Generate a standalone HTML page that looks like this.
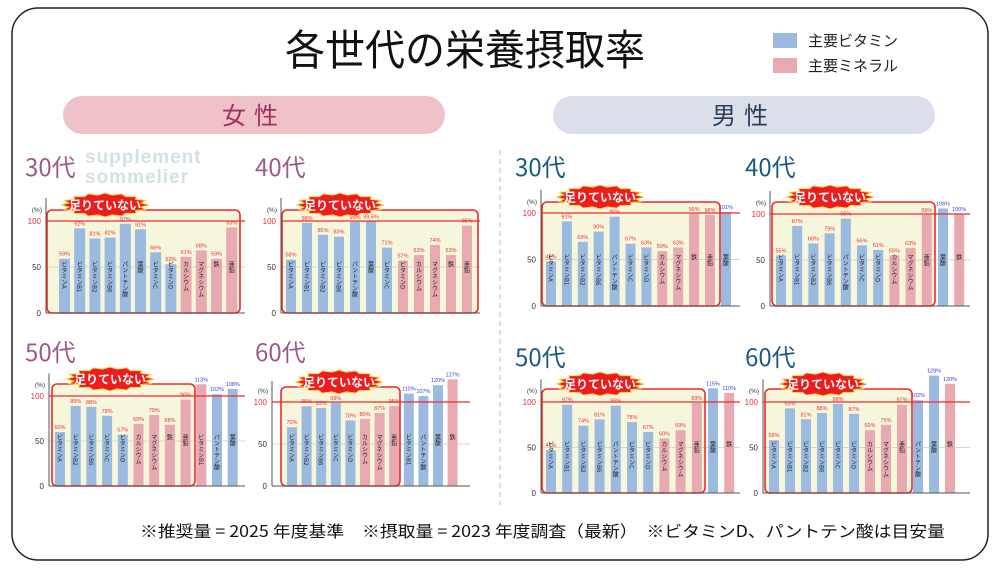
<!DOCTYPE html>
<html><head><meta charset="utf-8">
<style>
html,body{margin:0;padding:0;background:#fff;}
svg{display:block;font-family:"Liberation Sans","Noto Sans CJK JP",sans-serif;}
</style></head>
<body>
<svg id="s" width="1000" height="570" xmlns="http://www.w3.org/2000/svg">
<rect x="12" y="8" width="976" height="552" rx="26" fill="#fff" stroke="#222" stroke-width="1.5"/>
<text x="85" y="163" font-size="19" font-weight="bold" fill="#d3e1e6" letter-spacing="1">supplement</text>
<text x="85" y="183" font-size="19" font-weight="bold" fill="#d3e1e6" letter-spacing="1">sommelier</text>
<text x="285" y="65" font-size="42" textLength="360" lengthAdjust="spacingAndGlyphs" fill="#111" font-family="'Noto Sans CJK JP',sans-serif">各世代の栄養摂取率</text>
<rect x="773" y="33" width="24" height="15" fill="#9bbadf"/>
<text x="808" y="46" font-size="15" fill="#222" font-family="'Noto Sans CJK JP',sans-serif">主要ビタミン</text>
<rect x="773" y="58" width="24" height="15" fill="#e8a9b0"/>
<text x="808" y="71" font-size="15" fill="#222" font-family="'Noto Sans CJK JP',sans-serif">主要ミネラル</text>
<rect x="63" y="96" width="382" height="38" rx="19" fill="#efc1c9"/>
<text x="254" y="124" font-size="24" text-anchor="middle" fill="#a0335e" letter-spacing="8" font-family="'Noto Sans CJK JP',sans-serif">女性</text>
<rect x="553" y="96" width="382" height="38" rx="19" fill="#dadfea"/>
<text x="744" y="124" font-size="24" text-anchor="middle" fill="#2c3e58" letter-spacing="8" font-family="'Noto Sans CJK JP',sans-serif">男性</text>
<line x1="500" y1="150" x2="500" y2="505" stroke="#bbb" stroke-dasharray="5,4"/>
<text x="140" y="537" font-size="16" textLength="805" lengthAdjust="spacingAndGlyphs" fill="#111" font-family="'Noto Sans CJK JP',sans-serif">※推奨量 = 2025 年度基準　※摂取量 = 2023 年度調査（最新）　※ビタミンD、パントテン酸は目安量</text>
<g id="g"></g>
</svg>
<script>
const B="#9bbadf",P="#e8a9b0";
const panels=[
{t:"30代",tc:"#9c5a86",tx:25,ty:176,ax:46,y0:313,y100:221,bx1:47,bx2:240,by:210,fb:59,pitch:15.2,w:11,end:245,n:12,
d:[["ビタミンA",59,B],["ビタミンB1",92,B],["ビタミンB2",81,B],["ビタミンB6",82,B],["パントテン酸",97,B],["葉酸",91,B],["ビタミンC",66,B],["ビタミンD",53,B],["カルシウム",61,P],["マグネシウム",68,P],["鉄",59,P],["亜鉛",93,P]]},
{t:"40代",tc:"#9c5a86",tx:255,ty:176,ax:281,y0:313,y100:221,bx1:282,bx2:478,by:210,fb:286,pitch:16,w:10,end:480,n:12,
d:[["ビタミンA",58,B],["ビタミンB1",98,B],["ビタミンB2",85,B],["ビタミンB6",83,B],["パントテン酸",99,B],["葉酸",99.6,B,"99.6"],["ビタミンC",71,B],["ビタミンD",57,P],["カルシウム",63,P],["マグネシウム",74,P],["鉄",63,P],["亜鉛",95,P]]},
{t:"50代",tc:"#9c5a86",tx:25,ty:361,ax:49,y0:486,y100:396,bx1:52,bx2:195,by:384,fb:55,pitch:15.7,w:10,end:245,n:9,
d:[["ビタミンA",60,B],["ビタミンB2",89,B],["ビタミンB6",88,B],["ビタミンC",78,B],["ビタミンD",57,B],["カルシウム",69,P],["マグネシウム",79,P],["鉄",68,P],["亜鉛",96,P],["ビタミンB1",113,P],["パントテン酸",102,B],["葉酸",108,B]]},
{t:"60代",tc:"#9c5a86",tx:255,ty:361,ax:272,y0:486,y100:402,bx1:281,bx2:400,by:387,fb:287,pitch:14.6,w:10,end:470,n:8,
d:[["ビタミンA",70,B],["ビタミンB2",95,B],["ビタミンB6",93,B],["ビタミンC",99,B],["ビタミンD",78,B],["カルシウム",80,P],["マグネシウム",87,P],["亜鉛",95,P],["ビタミンB1",110,B],["パントテン酸",107,B],["葉酸",120,B],["鉄",127,P]]},
{t:"30代",tc:"#1b5a80",tx:515,ty:176,ax:541,y0:306,y100:213,bx1:542,bx2:720,by:202,fb:546,pitch:15.9,w:10,end:740,n:11,
d:[["ビタミンA",48,B],["ビタミンB1",91,B],["ビタミンB2",69,B],["ビタミンB6",80,B],["パントテン酸",96,B],["ビタミンC",67,B],["ビタミンD",63,B],["カルシウム",59,P],["マグネシウム",63,P],["鉄",99,P],["亜鉛",98,P],["葉酸",101,B]]},
{t:"40代",tc:"#1b5a80",tx:745,ty:176,ax:770,y0:306,y100:214,bx1:772,bx2:935,by:202,fb:776,pitch:16.2,w:10,end:970,n:10,
d:[["ビタミンA",55,B],["ビタミンB1",87,B],["ビタミンB2",68,B],["ビタミンB6",79,B],["パントテン酸",95,B],["ビタミンC",66,B],["ビタミンD",61,B],["カルシウム",55,P],["マグネシウム",63,P],["亜鉛",99,P],["葉酸",106,B],["鉄",100,P]]},
{t:"50代",tc:"#1b5a80",tx:515,ty:366,ax:541,y0:493,y100:402,bx1:542,bx2:705,by:389,fb:546,pitch:16.2,w:10,end:740,n:10,
d:[["ビタミンA",47,B],["ビタミンB1",97,B],["ビタミンB2",74,B],["ビタミンB6",81,B],["パントテン酸",96,B],["ビタミンC",78,B],["ビタミンD",67,B],["カルシウム",60,P],["マグネシウム",69,P],["亜鉛",99,P],["葉酸",115,B],["鉄",110,P]]},
{t:"60代",tc:"#1b5a80",tx:745,ty:366,ax:763,y0:493,y100:402,bx1:765,bx2:912,by:389,fb:769,pitch:16,w:10,end:970,n:9,
d:[["ビタミンA",58,B],["ビタミンB1",93,B],["ビタミンB2",81,B],["ビタミンB6",88,B],["ビタミンC",98,B],["ビタミンD",87,B],["カルシウム",69,P],["マグネシウム",75,P],["亜鉛",97,P],["パントテン酸",102,B],["葉酸",129,B],["鉄",120,P]]}
];
let h="";
function burst(cx,cy,rw,rh){let pts=[];const N=32;for(let i=0;i<N;i++){const a=i/N*2*Math.PI;const r=i%2?0.84:1;pts.push((cx+Math.cos(a)*rw*r).toFixed(1)+","+(cy+Math.sin(a)*rh*r).toFixed(1));}return pts.join(" ");}
for(const p of panels){
 const sc=(p.y0-p.y100)/100, y50=p.y0-50*sc;
 h+=`<text x="${p.tx}" y="${p.ty}" font-size="24" fill="${p.tc}" font-family="'Noto Sans CJK JP',sans-serif">${p.t}</text>`;
 h+=`<rect x="${p.bx1}" y="${p.by}" width="${p.bx2-p.bx1}" height="${p.y0-p.by}" rx="5" fill="#f6f6dc"/>`;
 h+=`<line x1="${p.ax}" y1="${y50}" x2="${p.end}" y2="${y50}" stroke="#d8d8c8" stroke-width="1"/>`;
 p.d.forEach((b,i)=>{const x=p.fb+i*p.pitch, hh=b[1]*sc, y=p.y0-hh;
  h+=`<rect x="${x}" y="${y}" width="${p.w}" height="${hh}" fill="${b[2]}"/>`;
  const col=i<p.n?"#e8323c":"#3340e0";
  h+=`<text x="${x+p.w/2}" y="${y-3}" font-size="5.5" text-anchor="middle" fill="${col}">${b[3]||b[1]}%</text>`;
  h+=`<text x="${x+p.w/2}" y="${p.y0-52}" font-size="6" fill="#222" writing-mode="tb" text-anchor="start" font-family="'Noto Sans CJK JP',sans-serif">${b[0]}</text>`;
 });
 h+=`<rect x="${p.bx1}" y="${p.by}" width="${p.bx2-p.bx1}" height="${p.y0-p.by}" rx="5" fill="none" stroke="#ee2a2a" stroke-width="1.6"/>`;
 h+=`<line x1="${p.ax}" y1="${p.y100}" x2="${p.end}" y2="${p.y100}" stroke="#ee2a2a" stroke-width="1.3"/>`;
 h+=`<line x1="${p.ax}" y1="${p.y0-125*sc}" x2="${p.ax}" y2="${p.y0}" stroke="#555" stroke-width="1"/>`;
 h+=`<line x1="${p.ax}" y1="${p.y0}" x2="${p.end}" y2="${p.y0}" stroke="#555" stroke-width="1"/>`;
 h+=`<text x="${p.ax-5}" y="${p.y100+3}" font-size="8" text-anchor="end" fill="#e8323c">100</text>`;
 h+=`<text x="${p.ax-5}" y="${y50+3}" font-size="8" text-anchor="end" fill="#333">50</text>`;
 h+=`<text x="${p.ax-5}" y="${p.y0+3}" font-size="8" text-anchor="end" fill="#333">0</text>`;
 h+=`<text x="${p.ax-4}" y="${p.y100-9}" font-size="6.5" text-anchor="end" fill="#333">(%)</text>`;
 const cx=p.bx1+58, cy=p.by-5;
 h+=`<polygon points="${burst(cx,cy,44,12)}" fill="#ee1c1c" stroke="#ffd84a" stroke-width="1"/>`;
 h+=`<text x="${cx}" y="${cy+4.5}" font-size="12" font-weight="bold" text-anchor="middle" fill="#fff" font-family="'Noto Sans CJK JP',sans-serif">足りていない</text>`;
}
document.getElementById("g").innerHTML=h;
</script>
</body></html>
